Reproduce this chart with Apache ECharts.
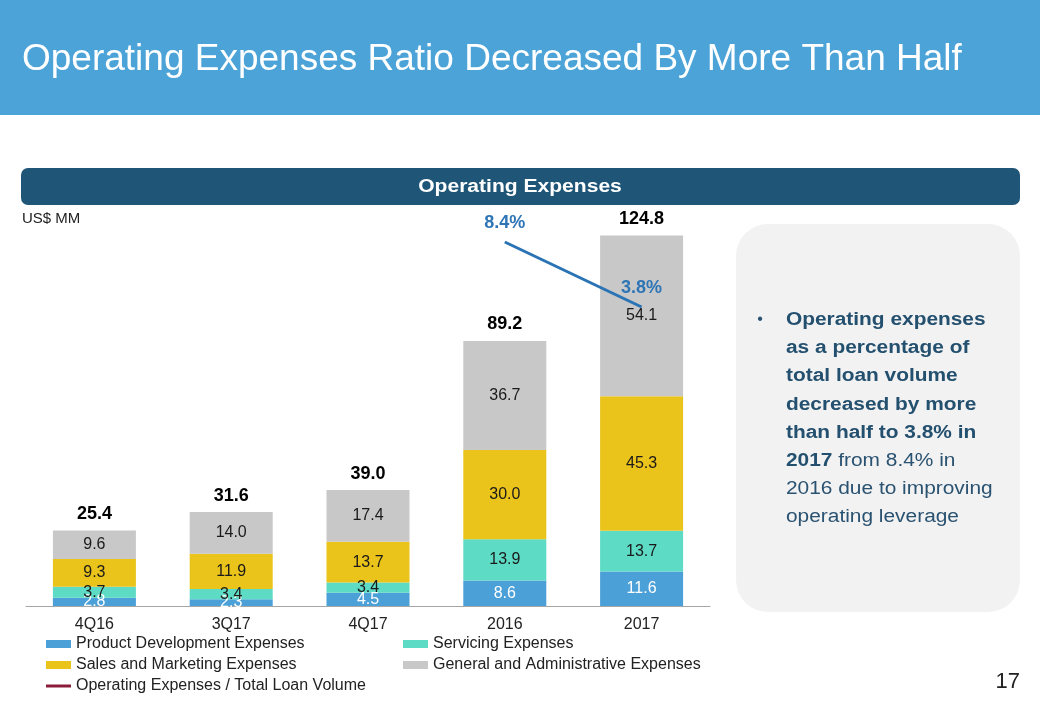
<!DOCTYPE html>
<html>
<head>
<meta charset="utf-8">
<script src="https://cdn.jsdelivr.net/npm/echarts@6/dist/echarts.min.js"></script>
<style>
html,body{margin:0;padding:0;background:#fff;}
#chart{width:1040px;height:720px;}
</style>
</head>
<body>
<div id="chart"></div>
<script>
const categories = ['4Q16', '3Q17', '4Q17', '2016', '2017'];
const productDev = [2.8, 2.3, 4.5, 8.6, 11.6];
const servicing = [3.7, 3.4, 3.4, 13.9, 13.7];
const salesMkt = [9.3, 11.9, 13.7, 30.0, 45.3];
const genAdmin = [9.6, 14.0, 17.4, 36.7, 54.1];
const totals = [25.4, 31.6, 39.0, 89.2, 124.8];
const opexRatio = [null, null, null, 8.4, 3.8];

const seriesNames = ['Product Development Expenses', 'Servicing Expenses', 'Sales and Marketing Expenses', 'General and Administrative Expenses', 'Operating Expenses / Total Loan Volume'];
const colors = ['#4BA0D8', '#5DDBC5', '#EAC31B', '#C8C8C8'];
const FONT = '"Liberation Sans", Arial, sans-serif';

const chart = echarts.init(document.getElementById('chart'));

function barSeries(name, data, color, labelColor) {
  return {
    name: name, type: 'bar', stack: 'opex', data: data, barWidth: 83,
    itemStyle: { color: color },
    label: { show: true, position: 'inside', color: labelColor, fontSize: 16, fontFamily: FONT,
      formatter: p => p.value.toFixed(1) }
  };
}

function legendAt(name, left, top, icon, h, color) {
  const item = { name: name, icon: icon };
  if (color) item.itemStyle = { color: color, opacity: 1 };
  return {
    data: [item], left: left, top: top, itemWidth: 25, itemHeight: h, padding: 0,
    selectedMode: false,
    textStyle: { fontSize: 16, color: '#222', fontFamily: FONT }
  };
}

const option = {
  animation: false,
  textStyle: { fontFamily: FONT },
  grid: { left: 26, right: 330, top: 190, bottom: 114 },
  xAxis: {
    type: 'category', data: categories,
    axisLine: { lineStyle: { color: '#A6A6A6', width: 1 } },
    axisTick: { show: false },
    axisLabel: { fontSize: 16, color: '#222', margin: 11, fontFamily: FONT }
  },
  yAxis: [
    { type: 'value', min: 0, max: 140, show: false },
    { type: 'value', min: -17.36, max: 12.08, show: false }
  ],
  legend: [
    legendAt(seriesNames[0], 46, 636, 'rect', 8),
    legendAt(seriesNames[1], 403, 636, 'rect', 8),
    legendAt(seriesNames[2], 46, 657, 'rect', 8),
    legendAt(seriesNames[3], 403, 657, 'rect', 8),
    legendAt(seriesNames[4], 46, 678, 'rect', 3, '#8B1C3A')
  ],
  series: [
    barSeries(seriesNames[0], productDev, colors[0], '#fff'),
    barSeries(seriesNames[1], servicing, colors[1], '#1a1a1a'),
    barSeries(seriesNames[2], salesMkt, colors[2], '#1a1a1a'),
    barSeries(seriesNames[3], genAdmin, colors[3], '#1a1a1a'),
    {
      name: 'totals', type: 'scatter', data: totals, symbolSize: 1, silent: true,
      itemStyle: { color: 'rgba(0,0,0,0)', opacity: 1 },
      label: { show: true, position: 'top', distance: 7, fontSize: 18, fontWeight: 'bold', color: '#000',
        fontFamily: FONT, formatter: p => p.value.toFixed(1) },
      z: 5
    },
    {
      name: seriesNames[4], type: 'line', yAxisIndex: 1, data: opexRatio,
      showSymbol: true, symbol: 'circle', symbolSize: 1, connectNulls: false,
      lineStyle: { color: '#2A73B5', width: 3 },
      itemStyle: { color: 'rgba(0,0,0,0)' },
      label: { show: true, position: 'top', distance: 9, fontSize: 18, fontWeight: 'bold', color: '#2E75B6',
        fontFamily: FONT, formatter: p => p.value == null ? '' : p.value.toFixed(1) + '%' },
      z: 6
    }
  ],
  graphic: [
    { type: 'rect', left: 0, top: 0, shape: { width: 1040, height: 115 }, style: { fill: '#4BA3D8' }, z: -10 },
    { type: 'text', x: 22, y: 60, style: { text: 'Operating Expenses Ratio Decreased By More Than Half', fill: '#fff',
      font: '37px ' + FONT, textVerticalAlign: 'middle' } },
    { type: 'rect', shape: { x: 21, y: 168, width: 999, height: 37, r: 7 }, style: { fill: '#1F5577' } },
    { type: 'text', x: 520, y: 187, scaleX: 1.17, style: { text: 'Operating Expenses', fill: '#fff',
      font: 'bold 18px ' + FONT, textAlign: 'center', textVerticalAlign: 'middle' } },
    { type: 'text', x: 22, y: 219, style: { text: 'US$ MM', fill: '#222', font: '15px ' + FONT, textVerticalAlign: 'middle' } },
    { type: 'rect', shape: { x: 736, y: 224, width: 284, height: 388, r: 32 }, style: { fill: '#F2F2F2' }, z: -10 },
    { type: 'text', x: 760, y: 320, style: { text: '•', fill: '#2A5271', font: '16px ' + FONT, textAlign: 'center', textVerticalAlign: 'middle' } },
    { type: 'text', x: 786, y: 306, scaleX: 1.16, style: {
      text: '{b|Operating expenses}\n{b|as a percentage of}\n{b|total loan volume}\n{b|decreased by more}\n{b|than half to 3.8% in}\n{b|2017}{n| from 8.4% in}\n{n|2016 due to improving}\n{n|operating leverage}',
      fill: '#2A5271', font: '18px ' + FONT, textVerticalAlign: 'top',
      rich: {
        b: { fontWeight: 'bold', fontSize: 18, lineHeight: 28.2, fontFamily: FONT, fill: '#24506F' },
        n: { fontSize: 18, lineHeight: 28.2, fontFamily: FONT, fill: '#2A5271' }
      } } },
    { type: 'text', x: 1020, y: 682, style: { text: '17', fill: '#222', font: '22px ' + FONT, textAlign: 'right', textVerticalAlign: 'middle' } }
  ]
};
chart.setOption(option);
</script>
</body>
</html>
